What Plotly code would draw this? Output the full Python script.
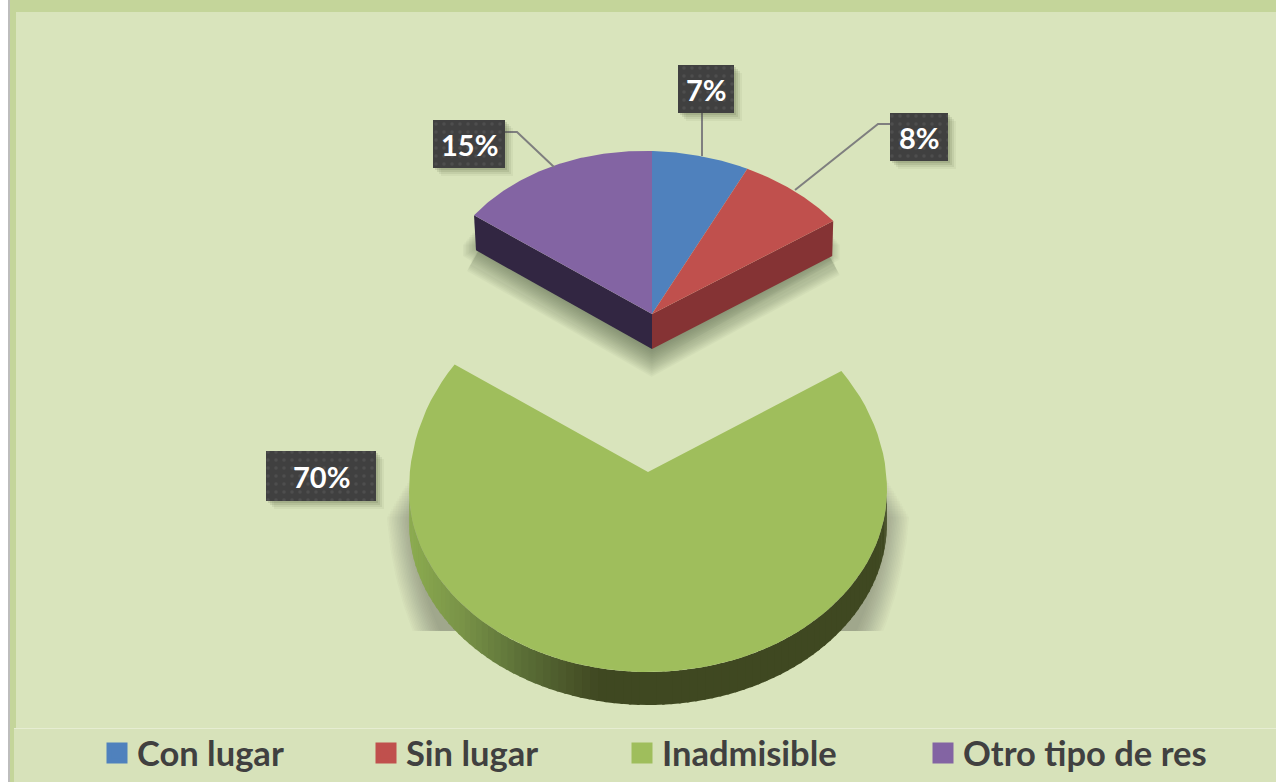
import numpy as np
import plotly.graph_objects as go

# ---- data ----
categories = ["Con lugar", "Sin lugar", "Inadmisible", "Otro tipo de res"]
values = [7, 8, 70, 15]
colors = ["#4F81BD", "#C0504D", "#9FBE5C", "#8364A3"]
wall_colors = {"Sin lugar": "#853334", "Otro tipo de res": "#322642"}
FONT = "Lato"

# ---- geometry of the two pie groups (tilted, exploded, slight perspective skew) ----
UP = dict(ax=652, ay=314, cx=652, cy=314, rx_r=224, rx_l=220, ry_top=163, skew=6, ry_bot=163, depth=35)
LOW = dict(ax=648, ay=472, cx=648, cy=490, rx_r=239, rx_l=239, ry_top=208, skew=7, ry_bot=182, depth=33)

cum = np.cumsum([0] + values) / 100 * 360.0
starts = {c: cum[i] for i, c in enumerate(categories)}
ends = {c: cum[i + 1] for i, c in enumerate(categories)}


def arc(g, t0, t1, n=90, dy=0.0):
    t = np.radians(np.linspace(t0, t1, n))
    s, co = np.sin(t), np.cos(t)
    ry = np.where(co >= 0, g["ry_top"] - g["skew"] * s, g["ry_bot"])
    rx = np.where(s >= 0, g["rx_r"], g["rx_l"])
    return g["cx"] + rx * s, g["cy"] - ry * co + dy


def wedge(g, t0, t1):
    x, y = arc(g, t0, t1)
    return np.r_[g["ax"], x, g["ax"]], np.r_[g["ay"], y, g["ay"]]


fig = go.Figure()


def poly(x, y, fill, **kw):
    fig.add_trace(go.Scatter(x=list(x), y=list(y), mode="lines", fill="toself", fillcolor=fill,
                             line=dict(width=0, color=fill), hoverinfo="skip", showlegend=False, **kw))


def soft_line(x, y, color, width, alpha):
    fig.add_trace(go.Scatter(x=list(x), y=list(y), mode="lines", hoverinfo="skip", showlegend=False,
                             opacity=alpha, line=dict(width=width, color=color)))


BG = "#D9E4BC"
SHADOW_RGB = "78,91,66"
SHADOW_FLOOR = 631
# lower group: soft shadow built from stacked ellipses, cut flat at its floor line
for srx in np.linspace(238, 262, 16):
    sry = 318 * srx / 260
    ystart = 478 + (srx - 238) * 1.6
    t = np.linspace(np.arccos((490 - ystart) / sry), 2 * np.pi - np.arccos((490 - ystart) / sry), 240)
    sx = LOW["cx"] + srx * np.sin(t)
    sy = 490 - sry * np.cos(t)
    sy = np.minimum(sy, SHADOW_FLOOR)
    poly(sx, sy, f"rgba({SHADOW_RGB},0.027)")

# upper group: shadow under the walls
lx, ly = arc(UP, 360 - values[3] * 3.6, 360 - values[3] * 3.6, n=1)
a1 = ends["Sin lugar"]
rx_, ry_ = arc(UP, a1, a1, n=1)
d = UP["depth"]
for w in range(4, 54, 3):
    drop = min(d - 2, 8 + w * 0.62)
    shx = [lx[0] + 6, UP["ax"], rx_[0] - 6]
    shy = [ly[0] + d - 4, UP["ay"] + d - 2, ry_[0] + d - 4]
    shx = [shx[0], *shx, shx[-1]]
    shy = [ly[0] + drop, *shy, ry_[0] + drop]
    soft_line(shx, shy, f"rgb({SHADOW_RGB})", w, 0.045)

# lower group: rim, shaded along the arc
RIM_STOPS = [(409, (140, 172, 80)), (460, (122, 148, 72)), (520, (92, 112, 56)), (597, (64, 72, 34)), (887, (63, 72, 33))]
rim_ts = np.arange(90, 270, 2.0)
for t in rim_ts:
    tx, ty = arc(LOW, t, t + 2.6, n=5)
    xm = float(tx.mean())
    rgb = [np.interp(xm, [s[0] for s in RIM_STOPS], [s[1][k] for s in RIM_STOPS]) for k in range(3)]
    poly(np.r_[tx, tx[::-1]], np.r_[ty, ty[::-1] + LOW["depth"]],
         "rgb(%d,%d,%d)" % tuple(rgb))

# upper group: walls
poly([lx[0], UP["ax"], UP["ax"], lx[0] + 2, lx[0]], [ly[0], UP["ay"], UP["ay"] + d, ly[0] + d, ly[0]],
     wall_colors["Otro tipo de res"])
poly([rx_[0], UP["ax"], UP["ax"], rx_[0] - 1, rx_[0]], [ry_[0], UP["ay"], UP["ay"] + d, ry_[0] + d, ry_[0]],
     wall_colors["Sin lugar"])

# top faces
for c, col in zip(categories, colors):
    g = LOW if c == "Inadmisible" else UP
    # order in the picture: 7 % and 8 % right of 12 o'clock, 15 % left of it, 70 % below
    if c == "Inadmisible":
        t0, t1 = ends["Sin lugar"], ends["Sin lugar"] + values[2] * 3.6
    elif c == "Otro tipo de res":
        t0, t1 = 360 - values[3] * 3.6, 360
    else:
        t0, t1 = starts[c], ends[c]
    x, y = wedge(g, t0, t1)
    poly(x, y, col, name=c)

# legend entries
legend_x = [97, 366, 622, 923]
for i, (c, col) in enumerate(zip(categories, colors)):
    key = "legend" if i == 0 else f"legend{i + 1}"
    fig.add_trace(go.Scatter(x=[None], y=[None], mode="markers", name=c, legend=key, showlegend=True,
                             marker=dict(symbol="square", size=16, color=col, line=dict(width=5, color=col))))
    fig.update_layout({key: dict(x=legend_x[i] / 1276, y=1 - 753 / 782, xanchor="left", yanchor="middle",
                                 bgcolor="rgba(0,0,0,0)", itemsizing="trace", itemwidth=30,
                                 font=dict(family=FONT, size=34.5, color="#404040", weight="bold"))})

# leader lines
leaders = [([702, 702], [113, 156]), ([505, 517, 554], [132, 132, 167]), ([890, 878, 795], [124, 124, 190])]
for lxs, lys in leaders:
    fig.add_trace(go.Scatter(x=lxs, y=lys, mode="lines", hoverinfo="skip", showlegend=False,
                             line=dict(color="#7F7F7F", width=2)))

# data labels
label_boxes = {"Con lugar": (678, 734, 65, 113), "Sin lugar": (890, 948, 113, 161),
               "Inadmisible": (266, 376, 451, 501), "Otro tipo de res": (433, 505, 120, 168)}
for c, v in zip(categories, values):
    x0, x1, y0, y1 = label_boxes[c]
    for off, a in ((8, .06), (6, .09), (4, .12), (2, .14)):
        fig.add_trace(go.Scatter(x=[x0 + off, x1 + off, x1 + off, x0 + off, x0 + off],
                                 y=[y0 + off, y0 + off, y1 + off, y1 + off, y0 + off], mode="lines", fill="toself",
                                 fillcolor=f"rgba(70,80,50,{a})", line=dict(width=0), hoverinfo="skip", showlegend=False))
    fig.add_trace(go.Scatter(x=[x0, x1, x1, x0, x0], y=[y0, y0, y1, y1, y0], mode="lines", fill="toself",
                             fillcolor="#404040", line=dict(width=0), hoverinfo="skip", showlegend=False,
                             fillpattern=dict(shape=".", fgcolor="#5C5C5C", bgcolor="#404040", size=8, solidity=0.15)))
    fig.add_annotation(x=(x0 + x1) / 2, y=(y0 + y1) / 2, text=f"<b>{v}%</b>", showarrow=False,
                       font=dict(family=FONT, size=29, color="#FFFFFF"), xanchor="center", yanchor="middle")


def paper_rect(x0, x1, y0, y1, color):
    return dict(type="rect", xref="paper", yref="paper", x0=x0 / 1276, x1=x1 / 1276, y0=1 - y1 / 782, y1=1 - y0 / 782,
                fillcolor=color, line_width=0, layer="below")


GREEN = "#C4D59A"
shapes = [
    paper_rect(0, 1276, 0, 12, GREEN),
    paper_rect(10, 16, 0, 728, GREEN),
    paper_rect(10, 14, 728, 782, GREEN),
    paper_rect(0, 8, 0, 782, "#FFFFFF"),
    paper_rect(8, 10, 0, 782, "#BDBDBD"),
    paper_rect(14, 1276, 729, 782, "#D7E2BA"),
    paper_rect(14, 1276, 728, 729, "#E6EDD2"),
]

fig.update_layout(
    width=1276, height=782, margin=dict(l=0, r=0, t=0, b=0), autosize=False,
    paper_bgcolor=BG, plot_bgcolor="rgba(0,0,0,0)", shapes=shapes, hovermode=False,
    xaxis=dict(range=[0, 1276], visible=False, fixedrange=True),
    yaxis=dict(range=[782, 0], visible=False, fixedrange=True),
    font=dict(family=FONT),
)
fig.write_html("out.html", config={"displayModeBar": False},
               post_script="document.body.style.margin='0';document.body.style.overflow='hidden';")
